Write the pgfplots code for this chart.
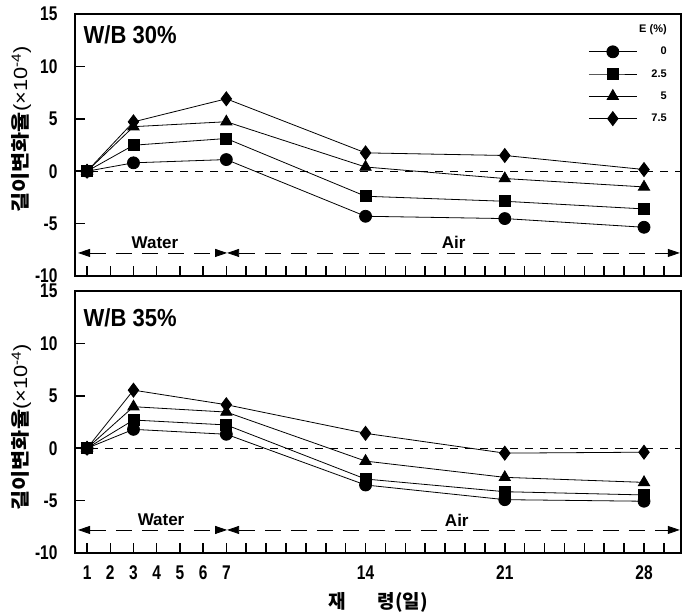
\documentclass[border=0pt]{standalone}
\usepackage{fontspec}
\setmainfont{Liberation Sans}
\newfontfamily\cjk{Noto Sans CJK KR}
\usepackage{graphicx}
\usepackage{pgfplots}
\pgfplotsset{compat=1.18}
\usetikzlibrary{arrows.meta}
\newcommand{\tl}[1]{\scalebox{1}[1.28]{#1}}

\pgfplotstableread{
day e0 e25 e5 e75
1 0 0 0 0
3 0.80 2.48 4.25 4.71
7 1.11 3.12 4.72 6.91
14 -4.30 -2.39 0.40 1.75
21 -4.52 -2.87 -0.70 1.50
28 -5.35 -3.60 -1.50 0.16
}\wbthirty
\pgfplotstableread{
day e0 e25 e5 e75
1 0 0 0 0
3 1.80 2.69 3.96 5.54
7 1.33 2.22 3.45 4.15
14 -3.51 -2.94 -1.23 1.42
21 -4.91 -4.15 -2.78 -0.47
28 -5.06 -4.46 -3.26 -0.38
}\wbthirtyfive

\tikzset{
  arr/.style={line width=0.8pt, dash pattern=on 16pt off 10pt,
    {Triangle[length=12pt,width=8pt]}-{Triangle[length=12pt,width=8pt]}},
  zl/.style={line width=0.8pt, dash pattern=on 8pt off 7pt},
}
\pgfplotsset{
  panel/.style={
    scale only axis, width=606pt, height=262pt,
    xmin=0.48, xmax=29.86, ymin=-10, ymax=15,
    x coord trafo/.code={\pgfmathparse{(##1<=7) ? ##1 : 7+(##1-7)*0.857}},
    axis line style={line width=1.2pt},
    tick align=inside, tick pos=left,
    xtick={1,2,3,4,5,6,7,14,21,28},
    minor xtick={8,9,10,11,12,13,15,16,17,18,19,20,22,23,24,25,26,27,29},
    ytick={-10,-5,0,5,10,15},
    yticklabels={\tl{-10},\tl{-5},\tl{0},\tl{5},\tl{10},\tl{15}},
    major tick length=10pt, minor tick length=10pt,
    every tick/.style={black, line width=1.5pt},
    tick label style={font=\fontsize{15.5}{15.5}\selectfont\bfseries},
    yticklabel style={xshift=-14pt},
    xticklabel style={yshift=-9pt},
    ylabel style={anchor=center, font=\fontsize{19}{19}\selectfont},
    every axis plot/.append style={black, line width=0.8pt, mark options={solid, fill=black}},
  },
  s0/.style={mark=*, mark size=6pt},
  s25/.style={mark=square*, mark size=5.5pt},
  s5/.style={mark=triangle*, mark size=6.5pt},
  s75/.style={mark=diamond*, mark size=7pt},
}

\begin{document}
\begin{tikzpicture}
\useasboundingbox (0pt,0pt) rectangle (682pt,-614pt);

\begin{axis}[panel, at={(75pt,-14pt)}, anchor=north west,
  xticklabels={},
  ylabel={\scalebox{1.15}[1]{{\cjk\bfseries 길이변화율}(×10\textsuperscript{-4})}},
  ylabel style={at={(axis description cs:-0.089,0.56)}},
  legend image code/.code={\draw[mark repeat=2,mark phase=2,#1] plot coordinates {(0pt,0pt) (24pt,0pt) (48pt,0pt)};},
  legend style={at={(axis description cs:0.985,0.975)}, anchor=north east, draw=none, fill=none,
    font=\fontsize{11}{12}\selectfont\bfseries, row sep=9pt},
  legend cell align=right,
]
\addlegendimage{empty legend}
\addplot[s0] table[x=day,y=e0]{\wbthirty};
\addplot[s25] table[x=day,y=e25]{\wbthirty};
\addplot[s5] table[x=day,y=e5]{\wbthirty};
\addplot[s75] table[x=day,y=e75]{\wbthirty};
\legend{E (\%),0,2.5,5,7.5}
\draw[zl] (rel axis cs:0,0.4) -- (rel axis cs:1,0.4);
\draw[arr] (rel axis cs:0.005,0.088) -- (rel axis cs:0.251,0.088);
\draw[arr] (rel axis cs:0.251,0.088) -- (rel axis cs:0.998,0.088);
\node[font=\fontsize{17}{17}\selectfont\bfseries] at (rel axis cs:0.132,0.128) {Water};
\node[font=\fontsize{17}{17}\selectfont\bfseries] at (rel axis cs:0.625,0.128) {Air};
\node[anchor=north west, inner sep=0pt, font=\fontsize{22}{22}\selectfont\bfseries] at (rel axis cs:0.014,0.955) {\scalebox{1}[1.12]{W/B 30\%}};
\end{axis}

\begin{axis}[panel, at={(75pt,-291pt)}, anchor=north west,
  xticklabels={\tl{1},\tl{2},\tl{3},\tl{4},\tl{5},\tl{6},\tl{7},\tl{14},\tl{21},\tl{28}},
  ylabel={\scalebox{1.15}[1]{{\cjk\bfseries 길이변화율}(×10\textsuperscript{-4})}},
  ylabel style={at={(axis description cs:-0.089,0.48)}},
  xlabel={{\cjk\bfseries 재\hspace{32pt}령(일)}},
  xlabel style={at={(axis description cs:0.5,0)}, anchor=center, yshift=-49pt, font=\fontsize{19}{19}\selectfont},
]
\addplot[s0] table[x=day,y=e0]{\wbthirtyfive};
\addplot[s25] table[x=day,y=e25]{\wbthirtyfive};
\addplot[s5] table[x=day,y=e5]{\wbthirtyfive};
\addplot[s75] table[x=day,y=e75]{\wbthirtyfive};
\draw[zl] (rel axis cs:0,0.4) -- (rel axis cs:1,0.4);
\draw[arr] (rel axis cs:0.005,0.088) -- (rel axis cs:0.251,0.088);
\draw[arr] (rel axis cs:0.251,0.088) -- (rel axis cs:0.998,0.088);
\node[font=\fontsize{17}{17}\selectfont\bfseries] at (rel axis cs:0.142,0.126) {Water};
\node[font=\fontsize{17}{17}\selectfont\bfseries] at (rel axis cs:0.63,0.126) {Air};
\node[anchor=north west, inner sep=0pt, font=\fontsize{22}{22}\selectfont\bfseries] at (rel axis cs:0.014,0.935) {\scalebox{1}[1.12]{W/B 35\%}};
\end{axis}
\end{tikzpicture}
\end{document}
